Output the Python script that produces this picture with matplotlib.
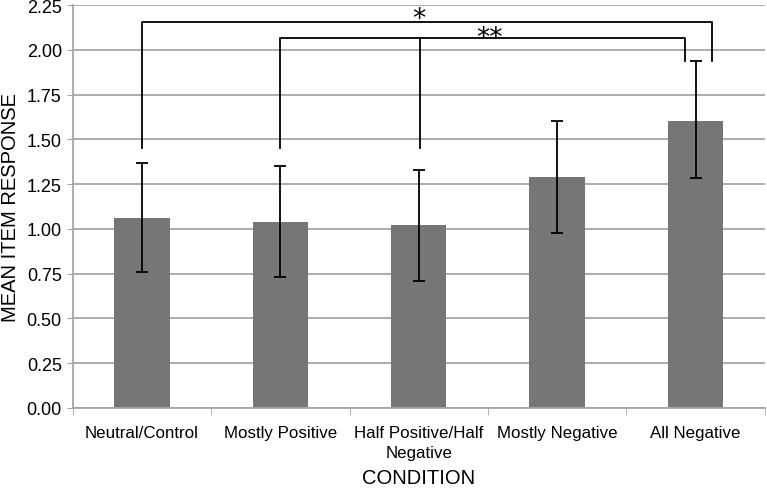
import matplotlib
matplotlib.use("Agg")
import matplotlib.pyplot as plt
from matplotlib.ticker import FixedLocator

categories = ["Neutral/Control", "Mostly Positive", "Half Positive/Half\nNegative",
              "Mostly Negative", "All Negative"]
means = [1.06, 1.04, 1.02, 1.29, 1.605]
err_low = [0.30, 0.31, 0.31, 0.315, 0.32]
err_high = [0.31, 0.31, 0.31, 0.315, 0.33]
yticks = [0.0, 0.25, 0.5, 0.75, 1.0, 1.25, 1.5, 1.75, 2.0, 2.25]

plt.rcParams['font.family'] = ['Liberation Sans', 'DejaVu Sans']

fig = plt.figure(figsize=(7.67, 4.89), dpi=100)
ax = fig.add_axes([0.095, 0.1636, 0.902, 0.824])

x = list(range(len(categories)))
ax.bar(x, means, width=0.4, color='#767676', zorder=2)
ax.errorbar(x, means, yerr=[err_low, err_high], fmt='none', ecolor='black',
            elinewidth=1.3, capsize=4, capthick=1.3, zorder=3)

ax.set_xlim(-0.5, 4.5)
ax.set_ylim(0, 2.25)
ax.set_yticks(yticks)
ax.set_yticklabels([f"{v:.2f}" for v in yticks], fontsize=13)
ax.yaxis.grid(True, color='#a6a6a6', linewidth=1.3, zorder=0)
ax.set_axisbelow(True)

ax.set_xticks(x)
ax.set_xticklabels(categories, fontsize=12.2, linespacing=1.45)
ax.tick_params(axis='x', which='major', length=0, pad=12)
ax.xaxis.set_minor_locator(FixedLocator([-0.5, 0.5, 1.5, 2.5, 3.5, 4.5]))
ax.tick_params(axis='x', which='minor', length=5, color='#a6a6a6', direction='out')
ax.tick_params(axis='y', length=4, color='#a6a6a6', pad=4)

for s in ['top', 'right']:
    ax.spines[s].set_visible(False)
for s in ['left', 'bottom']:
    ax.spines[s].set_color('#a6a6a6')
    ax.spines[s].set_linewidth(1.3)

ax.set_ylabel("MEAN ITEM RESPONSE", fontsize=14.5, labelpad=5)
ax.set_xlabel("CONDITION", fontsize=14.5, labelpad=6)

# significance brackets
lw = 1.3
ax.plot([0, 0, 4.12, 4.12], [1.45, 2.158, 2.158, 1.935], color='black', lw=lw, clip_on=False, zorder=4)
ax.text(2.0, 2.132, "*", ha='center', va='baseline', fontsize=19, family='DejaVu Sans')
ax.plot([1, 1, 3.925, 3.925], [1.45, 2.065, 2.065, 1.935], color='black', lw=lw, clip_on=False, zorder=4)
ax.plot([2.01, 2.01], [1.45, 2.065], color='black', lw=lw, zorder=4)
ax.text(2.51, 2.027, "**", ha='center', va='baseline', fontsize=19, family='DejaVu Sans')

fig.savefig("out.png", dpi=100)
